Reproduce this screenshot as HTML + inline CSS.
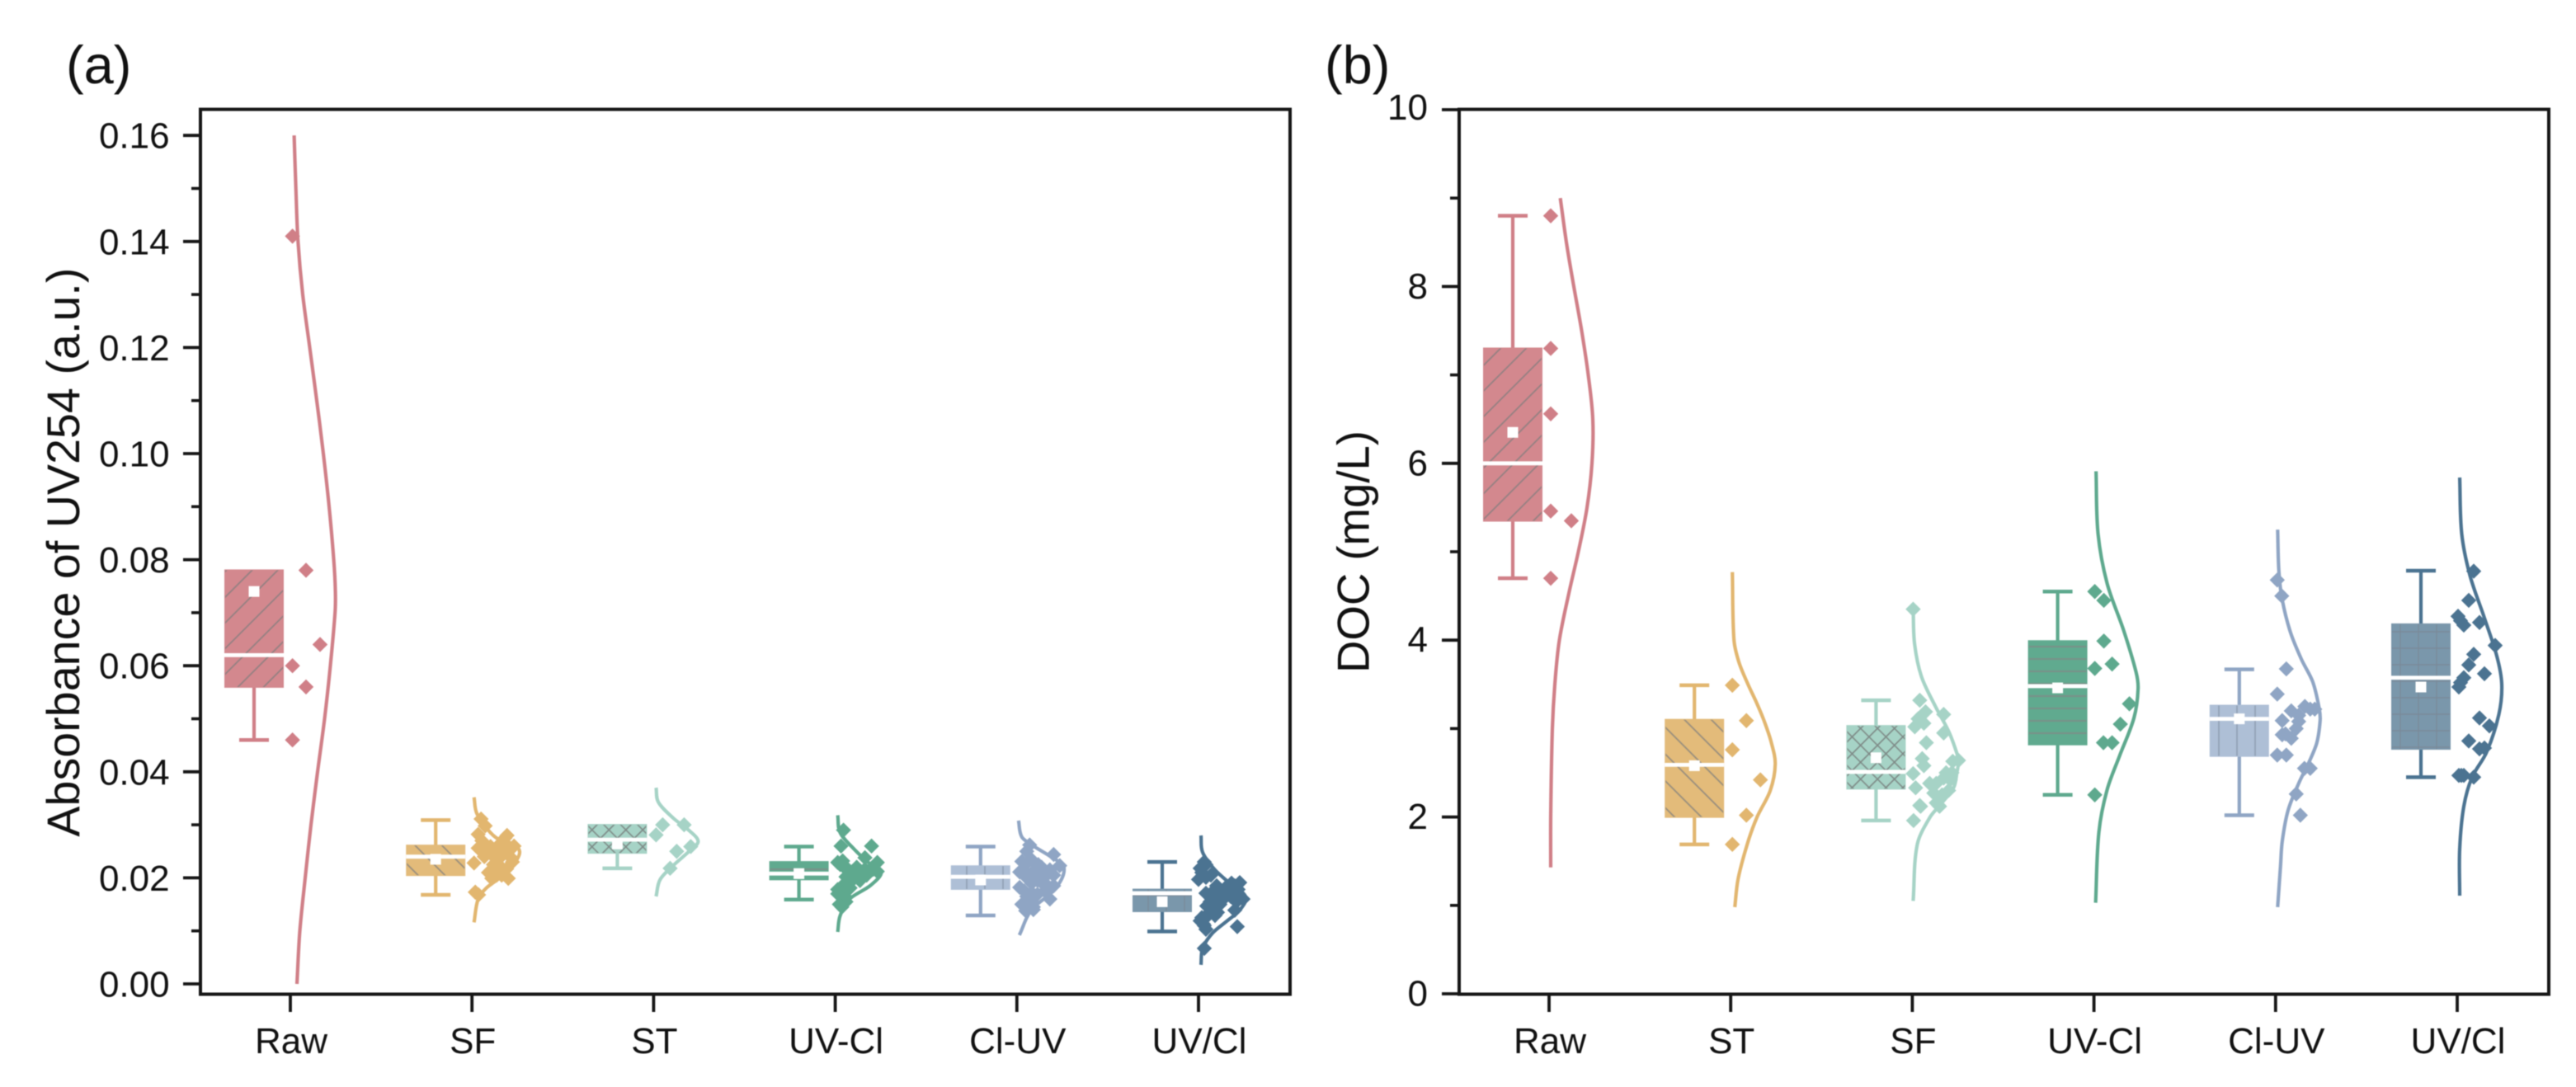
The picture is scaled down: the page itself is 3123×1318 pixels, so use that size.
<!DOCTYPE html>
<html lang="en">
<head>
<meta charset="utf-8">
<title>Absorbance of UV254 and DOC by treatment</title>
<style>
html,body{margin:0;padding:0;background:#fff;}
svg{display:block;filter:blur(0.5px);}
text{font-family:"Liberation Sans",Arial,sans-serif;fill:#111;}
</style>
</head>
<body>
<svg id="chart" xmlns="http://www.w3.org/2000/svg" width="3123" height="1318" viewBox="0 0 3123 1318">
  <defs>
    <pattern id="hatch-0" patternUnits="userSpaceOnUse" width="40" height="22" patternTransform="rotate(-45)"><path d="M0 1H40" stroke="#7d7d7d" stroke-width="1.8" stroke-opacity=".75"/></pattern>
    <pattern id="hatch-1" patternUnits="userSpaceOnUse" width="40" height="23" patternTransform="rotate(45)"><path d="M0 1H40" stroke="#7d7d7d" stroke-width="1.8" stroke-opacity=".75"/></pattern>
    <pattern id="hatch-2" patternUnits="userSpaceOnUse" width="14.5" height="14.5" patternTransform="rotate(45)"><path d="M0 1H15M1 0V15" stroke="#6f6f6f" stroke-width="1.6" stroke-opacity=".75"/></pattern>
    <pattern id="hatch-3" patternUnits="userSpaceOnUse" width="40" height="15"><path d="M0 4H40" stroke="#7d8d87" stroke-width="2.2" stroke-opacity=".8"/></pattern>
    <pattern id="hatch-4" patternUnits="userSpaceOnUse" width="22" height="60"><path d="M6 0V60" stroke="#8f9db2" stroke-width="2" stroke-opacity=".8"/></pattern>
    <pattern id="hatch-5" patternUnits="userSpaceOnUse" width="22" height="20"><path d="M6 0V20M0 6H22" stroke="#7a7f8c" stroke-width="1.4" stroke-opacity=".55"/></pattern>
  </defs>
  <text x="80" y="101" font-size="65">(a)</text>
  <text x="1606" y="101" font-size="65">(b)</text>
</svg>
<script>
// ---------- shared colours (by position on the category axis) ----------
const lineColors = ['#d07f87','#e2b66f','#a6d3c6','#5ea98e','#8fa5c4','#4b7391'];
const boxFills   = ['#d3888e','#e3bb7a','#a6d3c6','#60aa8f','#aebfd6','#7a97ab'];

// ---------- panel (a): absorbance of UV254 ----------
const aCategories = ['Raw','SF','ST','UV-Cl','Cl-UV','UV/Cl'];
const aYMajor = [0,0.02,0.04,0.06,0.08,0.10,0.12,0.14,0.16];
const aYMinor = [0.01,0.03,0.05,0.07,0.09,0.11,0.13,0.15];
const aYLabels = ['0.00','0.02','0.04','0.06','0.08','0.10','0.12','0.14','0.16'];
const aQ1     = [0.056,0.0205,0.0247,0.0197,0.0179,0.0137];
const aMedian = [0.062,0.0240,0.0272,0.0208,0.0202,0.0171];
const aQ3     = [0.078,0.0261,0.0300,0.0230,0.0222,0.0178];
const aLow    = [0.046,0.0168,0.0218,0.0159,0.0129,0.0099];
const aHigh   = [0.078,0.0309,0.0300,0.0259,0.0259,0.0230];
const aMean   = [0.074,0.0235,0.0264,0.0208,0.0196,0.0155];

const aRawValues = [0.141,0.078,0.064,0.060,0.056,0.046];
const aRawJitter = [0.26,1.9,3.6,0.26,1.9,0.26];
const aSfValues = [0.0311,0.0298,0.0282,0.0280,0.0264,0.0260,0.0256,0.0259,0.0228,0.0238,0.0248,0.0230,0.0222,0.0199,0.0199,0.0173,0.0217,0.0248,0.0168,0.0205,0.0270,0.0240,0.0252,0.0245,0.0235,0.0225,0.0215,0.0258,0.0275,0.0240,0.0205,0.0210];
const aSfJitter = [1.1,1.6,0.75,4.25,3.4,5.1,0.75,2.25,0.25,2.75,4.1,4.9,3.4,2.4,4.4,0.4,4.2,1.75,0.8,3.0,1.2,1.5,3.0,3.8,3.2,2.6,3.2,4.5,4.0,4.6,3.6,2.0];
const aStValues = [0.0300,0.0281,0.0300,0.0259,0.0250,0.0218];
const aStJitter = [1.1,0.3,3.7,4.5,2.8,2.0];
const aUvclValues = [0.0290,0.0260,0.0260,0.0238,0.0229,0.0229,0.0220,0.0212,0.0212,0.0212,0.0212,0.0202,0.0199,0.0178,0.0163,0.0145,0.0181,0.0163,0.0195,0.0205,0.0220,0.0218,0.0225,0.0232,0.0215,0.0208,0.0216,0.0216,0.0190,0.0172,0.0155,0.0150,0.0170];
const aUvclJitter = [1.0,0.7,4.4,3.6,5.1,0.3,1.1,2.1,3.1,4.1,5.1,1.3,2.3,0.3,0.8,0.8,1.8,1.3,3.0,3.8,2.6,4.4,0.6,0.9,1.6,2.8,3.6,4.6,1.2,0.9,1.3,0.5,0.3];
const aClUvValues = [0.0262,0.0244,0.0231,0.0223,0.0234,0.0211,0.0211,0.0205,0.0195,0.0185,0.0182,0.0169,0.0160,0.0138,0.0150,0.0220,0.0200,0.0175,0.0160,0.0215,0.0190,0.0140,0.0250,0.0225,0.0225,0.0215,0.0205,0.0205,0.0200,0.0190,0.0185,0.0175,0.0172,0.0165,0.0155,0.0148,0.0145];
const aClUvJitter = [1.55,4.46,0.6,5.2,1.8,3.25,0.34,4.46,2.5,4.46,0.34,2.5,4.0,1.07,0.6,3.0,1.2,3.4,1.4,4.0,3.4,2.0,1.2,1.0,2.6,2.2,1.4,3.6,3.0,1.8,3.4,0.9,1.8,1.2,1.8,1.2,2.0];
const aUvCl2Values = [0.0230,0.0218,0.0201,0.0197,0.0191,0.0181,0.0176,0.0171,0.0171,0.0160,0.0147,0.0165,0.0139,0.0129,0.0119,0.0103,0.0108,0.0067,0.0150,0.0165,0.0185,0.0180,0.0130,0.0110,0.0155,0.0225,0.0210,0.0205,0.0185,0.0190,0.0178,0.0175,0.0165,0.0160,0.0155,0.0160,0.0150,0.0140,0.0135,0.0125,0.0113,0.0128];
const aUvCl2Jitter = [0.7,0.2,0.9,0.0,5.0,3.7,2.7,0.9,4.7,5.4,1.0,3.0,4.4,2.0,0.2,0.9,4.7,0.7,2.0,3.9,4.4,3.2,1.2,0.7,4.6,0.9,0.4,1.5,2.2,4.0,4.8,1.8,1.8,3.0,1.4,4.4,2.6,1.6,2.3,0.4,0.6,0.9];

const aCurveLevelsRaw = [0.16,0.15,0.14,0.13,0.12,0.11,0.10,0.09,0.08,0.074,0.07,0.06,0.05,0.04,0.03,0.02,0.01,0];
const aCurveDensityRaw = [0.46,0.67,0.93,1.5,2.35,3.2,4.0,4.7,5.26,5.46,5.42,4.85,4.15,3.3,2.5,1.8,1.15,0.8];
const aCurveLevelsSf = [0.0352,0.0321,0.0285,0.0269,0.0256,0.0233,0.0204,0.0181,0.0160,0.0116];
const aCurveDensitySf = [0.25,0.6,2.25,3.6,5.6,5.4,3.7,1.75,0.75,0.25];
const aCurveLevelsSt = [0.0370,0.0342,0.0311,0.0292,0.0269,0.0250,0.0225,0.0197,0.0165];
const aCurveDensitySt = [0.3,0.6,2.5,4.1,5.4,4.3,2.5,0.8,0.3];
const aCurveLevelsUvcl = [0.0318,0.0285,0.0254,0.0228,0.0212,0.0186,0.0161,0.0129,0.0098];
const aCurveDensityUvcl = [0.3,0.6,2.3,4.1,5.6,4.3,1.8,0.6,0.3];
const aCurveLevelsClUv = [0.0308,0.0277,0.0262,0.0241,0.0221,0.0180,0.0140,0.0092];
const aCurveDensityClUv = [0.2,0.6,1.8,4.0,5.7,4.7,1.8,0.3];
const aCurveLevelsUvCl2 = [0.0280,0.0248,0.0215,0.0191,0.0165,0.0139,0.0118,0.0096,0.0067,0.0036];
const aCurveDensityUvCl2 = [0.3,0.5,2.0,3.7,5.7,5.0,3.4,1.7,0.5,0.3];

// ---------- panel (b): DOC ----------
const bCategories = ['Raw','ST','SF','UV-Cl','Cl-UV','UV/Cl'];
const bYMajor = [0,2,4,6,8,10];
const bYMinor = [1,3,5,7,9];
const bYLabels = ['0','2','4','6','8','10'];
const bQ1     = [5.35,2.0,2.32,2.82,2.69,2.77];
const bMedian = [6.0,2.59,2.51,3.48,3.11,3.575];
const bQ3     = [7.3,3.1,3.03,3.99,3.26,4.18];
const bLow    = [4.7,1.69,1.96,2.25,2.02,2.45];
const bHigh   = [8.8,3.49,3.32,4.55,3.67,4.785];
const bMean   = [6.35,2.58,2.67,3.46,3.11,3.47];

const bRawValues = [8.8,7.3,6.56,5.46,5.35,4.7];
const bRawJitter = [0.2,0.2,0.2,0.2,2.7,0.2];
const bStValues = [3.49,3.09,2.76,2.42,2.02,1.69];
const bStJitter = [0.2,1.9,0.2,3.6,1.9,0.2];
const bSfValues = [4.35,3.32,3.19,3.11,3.06,3.02,2.95,2.84,2.66,2.58,2.49,2.63,2.50,2.38,2.33,2.38,2.44,2.13,2.16,2.27,1.96,2.12,2.13,2.12,2.50,2.64,3.16,2.25,2.30,2.42];
const bSfJitter = [0.1,0.9,1.6,0.7,1.4,0.3,3.8,1.7,1.2,1.4,0.1,4.9,4.1,2.1,0.4,2.9,3.8,0.9,2.9,2.6,0.15,1.0,3.2,3.3,4.8,5.6,3.8,3.6,4.4,4.6];
const bUvclValues = [4.55,4.45,3.99,3.68,3.73,3.28,3.05,2.84,2.84,2.25];
const bUvclJitter = [0.1,1.2,1.2,0.1,2.2,4.3,3.2,1.15,2.2,0.1];
const bClUvValues = [4.68,4.50,3.675,3.39,3.20,3.25,3.22,3.22,3.15,3.09,3.0,2.93,2.89,2.70,2.70,2.55,2.55,2.26,2.02,3.08,2.94];
const bClUvJitter = [0.2,0.75,1.3,0.2,1.9,3.55,4.2,4.75,2.8,0.8,2.5,0.8,1.9,0.2,1.3,3.5,4.2,2.5,3.0,2.8,1.2];
const bUvCl2Values = [4.78,4.45,4.20,4.27,4.22,4.17,3.94,3.84,3.72,3.62,3.575,3.52,3.47,3.12,3.03,2.86,2.77,2.78,2.47,2.47,2.45,2.47];
const bUvCl2Jitter = [2.0,1.4,2.7,0.1,0.4,0.8,4.6,2.0,1.4,3.3,0.8,0.4,0.2,2.7,3.9,1.4,2.7,3.3,0.2,0.8,2.0,0.5];

const bCurveLevelsRaw = [9.0,8.5,8.0,7.5,7.0,6.5,6.0,5.5,5.0,4.53,4.0,3.5,3.0,2.0,1.43];
const bCurveDensityRaw = [1.36,2.1,3.0,3.95,4.75,5.3,5.2,4.6,3.55,2.4,1.25,0.7,0.4,0.2,0.2];
const bCurveLevelsSt = [4.77,4.0,3.75,3.5,3.3,3.1,2.85,2.6,2.3,2.0,1.72,1.3,0.98];
const bCurveDensitySt = [0.2,0.4,1.0,2.1,3.1,4.0,4.9,5.4,4.8,3.2,2.1,0.9,0.5];
const bCurveLevelsSf = [4.35,3.96,3.59,3.25,2.97,2.72,2.63,2.5,2.33,2.15,2.0,1.69,1.05];
const bCurveDensitySf = [0.1,0.27,1.1,2.8,4.4,5.4,5.6,5.4,5.0,3.5,2.16,0.6,0.1];
const bCurveLevelsUvcl = [5.91,5.2,4.64,4.11,3.64,3.45,3.12,2.69,2.31,1.83,1.03];
const bCurveDensityUvcl = [0.25,0.5,1.6,3.6,5.1,5.35,4.85,3.1,1.6,0.6,0.2];
const bCurveLevelsClUv = [5.25,4.78,4.46,4.09,3.78,3.53,3.22,3.09,2.84,2.63,2.38,2.07,1.72,1.45,0.98];
const bCurveDensityClUv = [0.25,0.4,0.8,1.8,3.15,4.5,5.3,5.4,5.0,4.1,2.8,1.5,0.8,0.6,0.25];
const bCurveLevelsUvCl2 = [5.84,5.2,4.73,4.25,3.82,3.5,3.16,2.73,2.45,2.12,1.64,1.11];
const bCurveDensityUvCl2 = [0.3,0.55,1.55,3.3,4.8,5.4,5.05,3.55,1.8,0.8,0.3,0.3];

// ---------- panel configuration ----------
const panelA = {
  id:'a', left:243, right:1564, top:132.6, bottom:1205.5,
  y0:1193, pxPerUnit:6430, firstTick:352, tickStep:220.2, labelRight:205.6, labelDrop:15.5,
  categories:aCategories, major:aYMajor, minor:aYMinor, labels:aYLabels,
  q1:aQ1, median:aMedian, q3:aQ3, low:aLow, high:aHigh, mean:aMean,
  values:[aRawValues,aSfValues,aStValues,aUvclValues,aClUvValues,aUvCl2Values],
  jitter:[aRawJitter,aSfJitter,aStJitter,aUvclJitter,aClUvJitter,aUvCl2Jitter],
  levels:[aCurveLevelsRaw,aCurveLevelsSf,aCurveLevelsSt,aCurveLevelsUvcl,aCurveLevelsClUv,aCurveLevelsUvCl2],
  density:[aCurveDensityRaw,aCurveDensitySf,aCurveDensitySt,aCurveDensityUvcl,aCurveDensityClUv,aCurveDensityUvCl2]
};
const panelB = {
  id:'b', left:1769, right:3090, top:132.6, bottom:1205.5,
  y0:1205, pxPerUnit:107.2, firstTick:1878, tickStep:220.2, labelRight:1731, labelDrop:14.5,
  categories:bCategories, major:bYMajor, minor:bYMinor, labels:bYLabels,
  q1:bQ1, median:bMedian, q3:bQ3, low:bLow, high:bHigh, mean:bMean,
  values:[bRawValues,bStValues,bSfValues,bUvclValues,bClUvValues,bUvCl2Values],
  jitter:[bRawJitter,bStJitter,bSfJitter,bUvclJitter,bClUvJitter,bUvCl2Jitter],
  levels:[bCurveLevelsRaw,bCurveLevelsSt,bCurveLevelsSf,bCurveLevelsUvcl,bCurveLevelsClUv,bCurveLevelsUvCl2],
  density:[bCurveDensityRaw,bCurveDensitySt,bCurveDensitySf,bCurveDensityUvcl,bCurveDensityClUv,bCurveDensityUvCl2]
};

const svg = document.getElementById('chart');
const NS = 'http://www.w3.org/2000/svg';
function make(tag, attrs, parent){
  const el = document.createElementNS(NS, tag);
  for (const k in attrs) el.setAttribute(k, attrs[k]);
  parent.appendChild(el);
  return el;
}
// Cubic spline in screen space, parameterised by y so uneven sample spacing stays smooth.
function smoothPath(pts){
  const n = pts.length;
  const slope = i => {
    const a = pts[Math.max(i-1,0)], b = pts[Math.min(i+1,n-1)];
    return (b[0]-a[0]) / (b[1]-a[1]);
  };
  let d = 'M' + pts[0][0].toFixed(1) + ' ' + pts[0][1].toFixed(1);
  for (let i = 0; i < n - 1; i++){
    const p = pts[i], q = pts[i+1], h = (q[1]-p[1]) / 3;
    d += 'C' + (p[0]+slope(i)*h).toFixed(1)+' '+(p[1]+h).toFixed(1)+' '+(q[0]-slope(i+1)*h).toFixed(1)+' '+(q[1]-h).toFixed(1)+' '+q[0].toFixed(1)+' '+q[1].toFixed(1);
  }
  return d;
}

function drawPanel(p){
  const yAt = v => p.y0 - v * p.pxPerUnit;
  const xAt = i => p.firstTick + i * p.tickStep;
  const spreadX = (i, u) => xAt(i) + u * 10;
  const boxX = i => xAt(i) - 44;

  const g = make('g', {}, svg);
  
  

  const frame = make('rect', {x:p.left, y:p.top, width:p.right-p.left, height:p.bottom-p.top, fill:'none', stroke:'#161616', 'stroke-width':4}, g);
  
  

  p.major.forEach((v, i) => {
    const tick = make('line', {x1:p.left-21, x2:p.left, y1:yAt(v), y2:yAt(v), stroke:'#161616', 'stroke-width':3.8}, g);
    
    
    const drop = yAt(v) <= p.top + 1 ? p.labelDrop - 2.5 : p.labelDrop;
    const lab = make('text', {x:p.labelRight, y:yAt(v)+drop, 'font-size':44, 'text-anchor':'end'}, g);
    
    
    lab.textContent = p.labels[i];
  });
  p.minor.forEach(v => {
    const tick = make('line', {x1:p.left-11, x2:p.left, y1:yAt(v), y2:yAt(v), stroke:'#161616', 'stroke-width':3.6}, g);
    
    
  });

  p.categories.forEach((name, i) => {
    const x = xAt(i);
    const tick = make('line', {x1:x, x2:x, y1:p.bottom, y2:1227, stroke:'#161616', 'stroke-width':3.8}, g);
    
    
    const lab = make('text', {x:x+1, y:1277, 'font-size':44, 'text-anchor':'middle'}, g);
    
    
    lab.textContent = name;

    const group = make('g', {}, g);
    
    
    const color = lineColors[i], fill = boxFills[i], bx = boxX(i);

    const curvePts = p.levels[i].map((v, k) => [spreadX(i, p.density[i][k]), yAt(v)]);
    const curve = make('path', {d:smoothPath(curvePts), fill:'none', stroke:color, 'stroke-width':4.2}, group);
    
    

    const whisker = make('line', {x1:bx, x2:bx, y1:yAt(p.high[i]), y2:yAt(p.low[i]), stroke:color, 'stroke-width':4.2}, group);
    
    
    if (p.high[i] > p.q3[i]){
      const capHi = make('line', {x1:bx-18, x2:bx+18, y1:yAt(p.high[i]), y2:yAt(p.high[i]), stroke:color, 'stroke-width':4.5}, group);
      
      
    }
    const capLo = make('line', {x1:bx-18, x2:bx+18, y1:yAt(p.low[i]), y2:yAt(p.low[i]), stroke:color, 'stroke-width':4.5}, group);
    
    

    const boxAttrs = {x:bx-35, width:70, y:yAt(p.q3[i]), height:yAt(p.q1[i])-yAt(p.q3[i])};
    const box = make('rect', Object.assign({fill:fill, stroke:fill, 'stroke-width':2}, boxAttrs), group);
    
    
    const hatch = make('rect', Object.assign({fill:'url(#hatch-' + i + ')'}, boxAttrs), group);
    
    

    const med = make('line', {x1:bx-36, x2:bx+36, y1:yAt(p.median[i]), y2:yAt(p.median[i]), stroke:'#fff', 'stroke-width':4.8}, group);
    
    
    const mean = make('rect', {x:bx-6.5, y:yAt(p.mean[i])-6.5, width:13, height:13, fill:'#fff'}, group);
    
    

    p.values[i].forEach((v, k) => {
      const cx = spreadX(i, p.jitter[i][k]), cy = yAt(v), r = 9.2;
      const pt = make('path', {d:'M'+cx+' '+(cy-r)+'L'+(cx+r)+' '+cy+'L'+cx+' '+(cy+r)+'L'+(cx-r)+' '+cy+'Z', fill:color}, group);
      
      
    });
  });
}
drawPanel(panelA);
drawPanel(panelB);

const yTitleA = make('text', {transform:'translate(96,1014.6) rotate(-90)', 'font-size':55.5, textLength:690, lengthAdjust:'spacing'}, svg);


yTitleA.textContent = 'Absorbance of UV254 (a.u.)';
const yTitleB = make('text', {transform:'translate(1659.5,816) rotate(-90)', 'font-size':54.6, textLength:294, lengthAdjust:'spacing'}, svg);


yTitleB.textContent = 'DOC (mg/L)';
</script>
</body>
</html>
